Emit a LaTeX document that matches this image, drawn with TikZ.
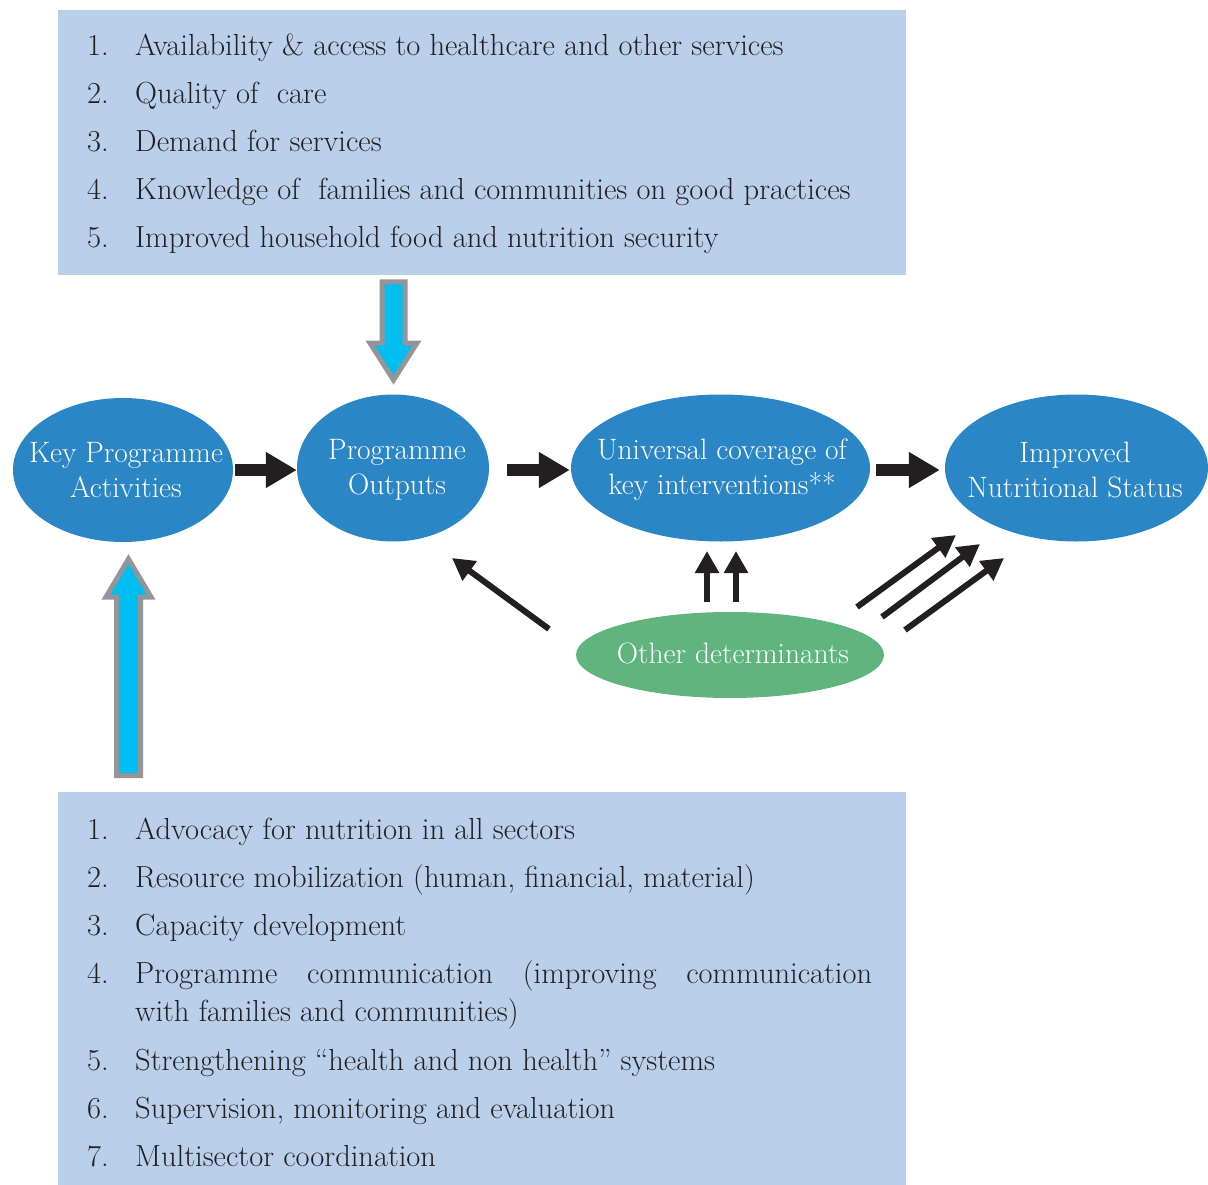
\documentclass[tikz,border=0pt]{standalone}
\usepackage{fontspec}
\usetikzlibrary{shapes.geometric,arrows.meta}
\definecolor{boxblue}{HTML}{B9CFEA}
\definecolor{ellblue}{HTML}{2B86C6}
\definecolor{detgreen}{HTML}{60B47E}
\definecolor{cyanfill}{HTML}{00BEF2}
\definecolor{arrgray}{HTML}{939598}
\definecolor{darkarr}{HTML}{231F20}
\begin{document}
\begin{tikzpicture}[x=1pt,y=-1pt,
  listbox/.style={fill=boxblue, inner sep=0pt, anchor=north west},
  itemtext/.style={font=\fontsize{30.5}{38}\selectfont, text=darkarr, inner sep=0pt, anchor=base west},
  ell/.style={ellipse, fill=ellblue, inner sep=0pt},
  elltext/.style={font=\fontsize{29.5}{35}\selectfont, text=white, align=center, inner sep=0pt},
  bigarrow/.style={darkarr, line width=12pt, -{Triangle[length=31pt,width=34pt]}},
  thinarrow/.style={darkarr, line width=6pt, -{Triangle[length=22pt,width=23pt]}},
  hollow/.style={fill=cyanfill, draw=arrgray, line width=5pt, line join=miter}]
\useasboundingbox (0,0) rectangle (1208,1185);

% boxes
\node[listbox, minimum width=848pt, minimum height=265pt] (topbox) at (58,10) {};
\node[listbox, minimum width=848pt, minimum height=393pt] (botbox) at (58,792) {};

% top list
\node[itemtext] (tn1) at (87,56) {1.};
\node[itemtext] (tt1) at (135,56) {Availability \& access to healthcare and other services};
\node[itemtext] (tn2) at (87,104) {2.};
\node[itemtext] (tt2) at (135,104) {Quality of\ \ care};
\node[itemtext] (tn3) at (87,152) {3.};
\node[itemtext] (tt3) at (135,152) {Demand for services};
\node[itemtext] (tn4) at (87,200) {4.};
\node[itemtext] (tt4) at (135,200) {Knowledge of\ \ families and communities on good practices};
\node[itemtext] (tn5) at (87,248) {5.};
\node[itemtext] (tt5) at (135,248) {Improved household food and nutrition security};

% bottom list
\node[itemtext] (bn1) at (87,839) {1.};
\node[itemtext] (bt1) at (135,839) {Advocacy for nutrition in all sectors};
\node[itemtext] (bn2) at (87,887) {2.};
\node[itemtext] (bt2) at (135,887) {Resource mobilization (human, financial, material)};
\node[itemtext] (bn3) at (87,935) {3.};
\node[itemtext] (bt3) at (135,935) {Capacity development};
\node[itemtext] (bn4) at (87,983) {4.};
\node[itemtext] (bt4) at (135,983) {\parbox[t]{737pt}{\fontsize{30.5}{38}\selectfont\hbadness=10000 Programme communication (improving communication\linebreak with families and communities)}};
\node[itemtext] (bn5) at (87,1070) {5.};
\node[itemtext] (bt5) at (135,1070) {Strengthening ``health and non health'' systems};
\node[itemtext] (bn6) at (87,1118) {6.};
\node[itemtext] (bt6) at (135,1118) {Supervision, monitoring and evaluation};
\node[itemtext] (bn7) at (87,1166) {7.};
\node[itemtext] (bt7) at (135,1166) {Multisector coordination};

% ellipses
\node[ell, minimum width=220pt, minimum height=144pt] (kpa) at (123,470) {};
\node[elltext] (kpat) at (126,470) {Key Programme\\Activities};
\node[ell, minimum width=192pt, minimum height=147pt] (po) at (393,468) {};
\node[elltext] (pot) at (397,470) {Programme\\Outputs};
\node[ell, minimum width=299pt, minimum height=147pt] (uc) at (720.5,468) {};
\node[elltext] (uct) at (722,470) {Universal coverage of\\key interventions**};
\node[ell, minimum width=263pt, minimum height=147pt] (ins) at (1076.5,468) {};
\node[elltext] (inst) at (1075,470) {Improved\\Nutritional Status};
\node[ellipse, fill=detgreen, inner sep=0pt, minimum width=308pt, minimum height=86pt] (od) at (730,655) {};
\node[elltext] (odt) at (733,653) {Other determinants};

% big black arrows
\draw[bigarrow] ([xshift=2pt]kpa.east) -- (kpa.east -| po.west);
\draw[bigarrow] ([xshift=18pt,yshift=-2pt]po.east) -- ([xshift=-1pt,yshift=-2pt]uc.west);
\draw[bigarrow] ([xshift=6pt,yshift=-2pt]uc.east) -- ([xshift=-5pt,yshift=-2pt]ins.west);

% thin arrows from other determinants
\coordinate (a1s) at (549,629); \coordinate (a1e) at (452,558);
\coordinate (a2s) at (707,602); \coordinate (a2e) at (707,551);
\coordinate (a3s) at (736,602); \coordinate (a3e) at (736,551);
\coordinate (a4s) at (857,607); \coordinate (a4e) at (956,535);
\coordinate (a5s) at (882,617); \coordinate (a5e) at (980,544);
\coordinate (a6s) at (905,630); \coordinate (a6e) at (1004,558);
\draw[thinarrow] (a1s) -- (a1e);
\draw[thinarrow] (a2s) -- (a2e);
\draw[thinarrow] (a3s) -- (a3e);
\draw[thinarrow] (a4s) -- (a4e);
\draw[thinarrow] (a5s) -- (a5e);
\draw[thinarrow] (a6s) -- (a6e);

% hollow blue arrows
\draw[hollow] (382,282) -- (405,282) -- (405,343) -- (417,343) -- (393.5,380) -- (370,343) -- (382,343) -- cycle;
\draw[hollow] (116.5,775.5) -- (140.5,775.5) -- (140.5,597) -- (151,597) -- (128.5,559) -- (106,597) -- (116.5,597) -- cycle;
\end{tikzpicture}
\end{document}
